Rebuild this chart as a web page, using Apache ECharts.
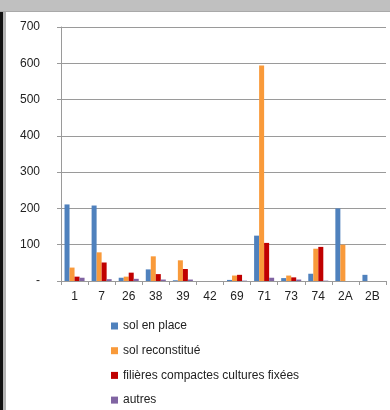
<!DOCTYPE html>
<html>
<head>
<meta charset="utf-8">
<script src="https://cdn.jsdelivr.net/npm/echarts@6/dist/echarts.min.js"></script>
<style>
  html, body { margin: 0; padding: 0; background: #fff; }
  #chart { width: 390px; height: 410px; }
</style>
</head>
<body>
<div id="chart"></div>
<script>
// catégories (départements)
const categories = ['1', '7', '26', '38', '39', '42', '69', '71', '73', '74', '2A', '2B']
const solEnPlace = [211, 208, 9, 32, 2, 0, 3, 125, 8, 20, 200, 17]
const solReconstitue = [37, 79, 12, 68, 57, 0, 15, 594, 15, 89, 100, 0]
const filieresCompactes = [12, 51, 23, 19, 33, 0, 17, 105, 10, 94, 0, 0]
const autres = [9, 5, 6, 4, 4, 0, 1, 9, 4, 1, 0, 0]
const yTicks = [0, 100, 200, 300, 400, 500, 600, 700]

const seriesNames = ['sol en place', 'sol reconstitué', 'filières compactes cultures fixées', 'autres']
const colors = ['#4F81BD', '#F99A3A', '#C00000', '#8064A2']
const values = [solEnPlace, solReconstitue, filieresCompactes, autres]

const font = "'Liberation Sans', 'DejaVu Sans', sans-serif"

const chart = echarts.init(document.getElementById('chart'), null, { renderer: 'canvas' })

const option = {
  animation: false,
  backgroundColor: '#fff',
  color: colors,
  textStyle: { fontFamily: font },
  grid: { left: 61, right: 4, top: 27, bottom: 129 },
  legend: {
    orient: 'vertical',
    left: 111,
    top: 319,
    padding: 0,
    height: 100,
    icon: 'rect',
    itemWidth: 7,
    itemHeight: 7,
    itemGap: 10.7,
    textStyle: { fontSize: 12, color: '#222', lineHeight: 14, fontFamily: font },
    data: seriesNames
  },
  xAxis: {
    type: 'category',
    data: categories,
    axisLine: { lineStyle: { color: '#9a9a9a', width: 1 } },
    axisTick: { show: true, interval: 0, length: 4, lineStyle: { color: '#9a9a9a' } },
    axisLabel: { margin: 10, fontSize: 12, color: '#222', interval: 0 }
  },
  yAxis: {
    type: 'value',
    min: yTicks[0],
    max: yTicks[yTicks.length - 1],
    interval: 100,
    axisLine: { show: true, lineStyle: { color: '#9a9a9a' } },
    axisTick: { show: true, length: 4, lineStyle: { color: '#9a9a9a' } },
    splitLine: { lineStyle: { color: '#9a9a9a', width: 1 } },
    axisLabel: {
      margin: 21,
      fontSize: 12,
      color: '#222',
      formatter: v => (v === 0 ? '-' : String(v))
    }
  },
  series: seriesNames.map((name, i) => ({
    name: name,
    type: 'bar',
    data: values[i],
    barGap: 0,
    barCategoryGap: '26%',
    itemStyle: { color: colors[i] }
  })),
  graphic: [
    // bandeau gris en haut et bord gauche de la capture
    { type: 'rect', shape: { x: 0, y: 0, width: 390, height: 11 }, style: { fill: '#c0c0c0' }, z: 100 },
    { type: 'rect', shape: { x: 0, y: 11, width: 390, height: 1 }, style: { fill: '#a9a9a9' }, z: 100 },
    { type: 'rect', shape: { x: 0, y: 12, width: 3, height: 398 }, style: { fill: '#111' }, z: 100 },
    { type: 'rect', shape: { x: 3, y: 12, width: 3, height: 398 }, style: { fill: '#b4b4b4' }, z: 100 }
  ]
}

chart.setOption(option)
</script>
</body>
</html>
